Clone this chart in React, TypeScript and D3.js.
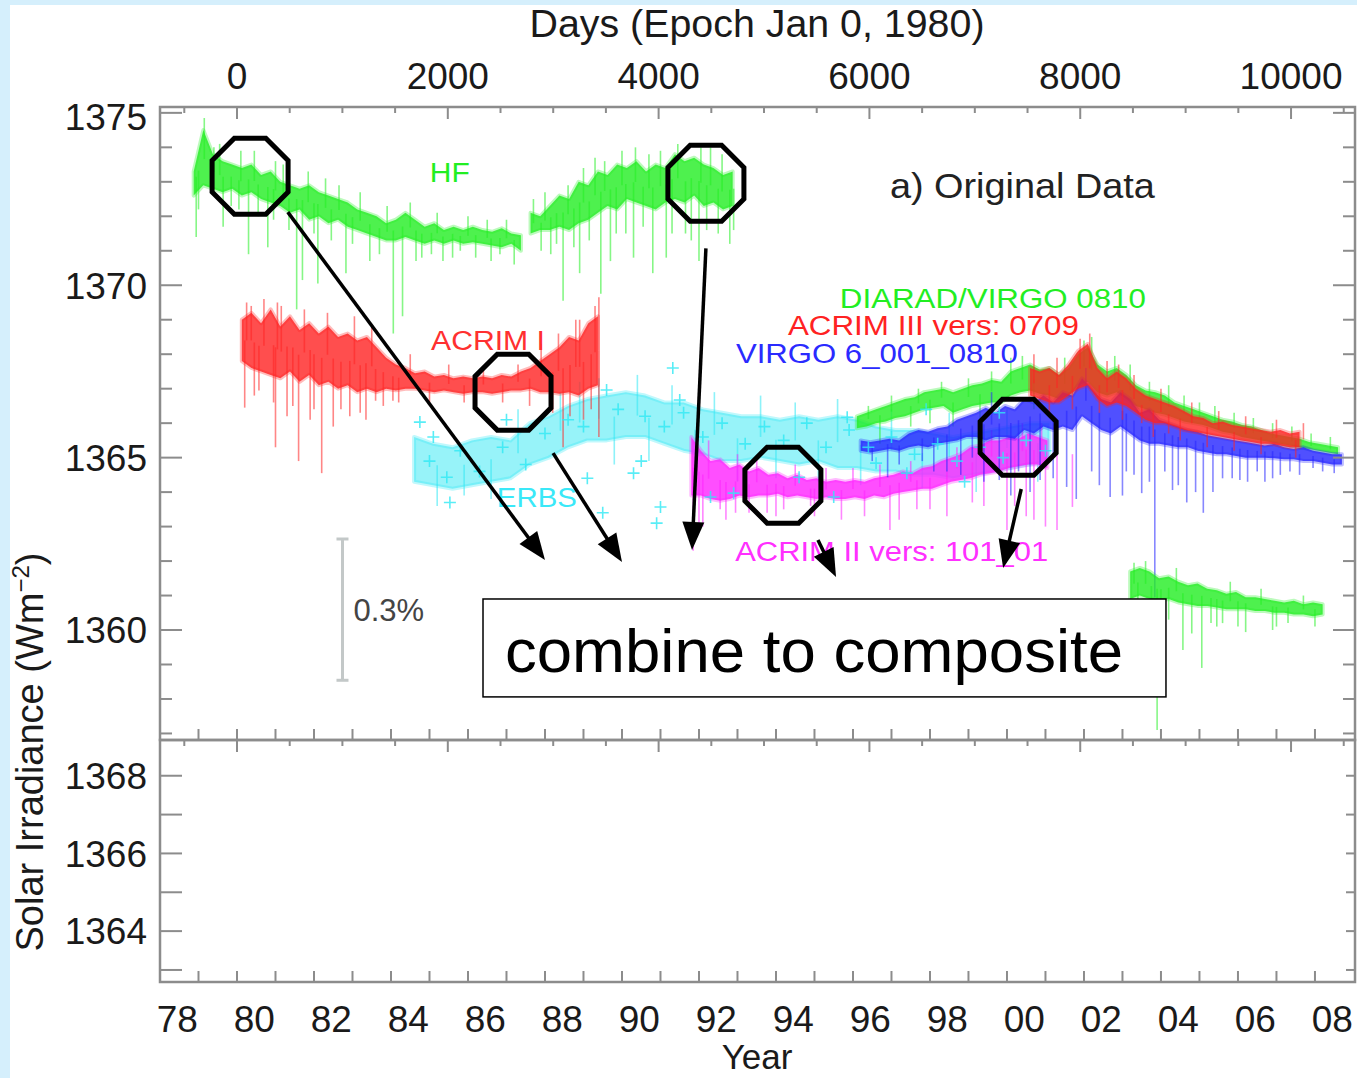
import React from "react";
import * as d3 from "d3";

const WIDTH = 1357;
const HEIGHT = 1078;

// ---------- tick labels ----------
const yearLabels = ["78", "80", "82", "84", "86", "88", "90", "92", "94", "96", "98", "00", "02", "04", "06", "08"];
const yearLabelYears = [1978, 1980, 1982, 1984, 1986, 1988, 1990, 1992, 1994, 1996, 1998, 2000, 2002, 2004, 2006, 2008];
const dayLabels = [0, 2000, 4000, 6000, 8000, 10000];
const upperYLabels = [1375, 1370, 1365, 1360];
const lowerYLabels = [1368, 1366, 1364];

// ---------- series (binned ranges: hi / lo per bin, 0.25 yr bins unless noted) ----------
const hf1Start = 1978.875;
const hf1Hi = [1373.3, 1374.5, 1373.8, 1373.6, 1373.5, 1373.4, 1373.5, 1373.2, 1373.3, 1373.0, 1372.9, 1372.8, 1372.9, 1372.7, 1372.6, 1372.5, 1372.4, 1372.2, 1372.1, 1372.0, 1371.8, 1371.9, 1372.1, 1371.9, 1371.7, 1371.8, 1371.6, 1371.7, 1371.6, 1371.7, 1371.6, 1371.55, 1371.65, 1371.5, 1371.45];
const hf1Lo = [1372.6, 1372.9, 1372.8, 1372.7, 1372.8, 1372.6, 1372.7, 1372.5, 1372.4, 1372.3, 1372.1, 1372.2, 1371.9, 1372.0, 1371.8, 1371.9, 1371.7, 1371.6, 1371.5, 1371.4, 1371.3, 1371.3, 1371.4, 1371.3, 1371.2, 1371.3, 1371.2, 1371.3, 1371.2, 1371.25, 1371.2, 1371.15, 1371.1, 1371.2, 1371.0];
const hf1Spikes = [[1978.94, 1371.4], [1979.15, 1374.85], [1979.64, 1371.7], [1980.3, 1370.9], [1980.8, 1371.1], [1981.55, 1369.3], [1981.7, 1370.15], [1982.1, 1370.05], [1982.83, 1370.35], [1983.45, 1370.7], [1984.06, 1368.6], [1984.3, 1369.1], [1984.8, 1370.8], [1985.35, 1370.7], [1985.8, 1371.0], [1986.83, 1370.9], [1979.4, 1374.0], [1980.1, 1373.9], [1981.0, 1373.6],
  [1979.0, 1372.2], [1979.55, 1374.1], [1979.85, 1372.3], [1980.05, 1372.2], [1980.45, 1373.9], [1980.55, 1372.0], [1980.95, 1371.9], [1981.2, 1373.5], [1981.35, 1371.6], [1981.85, 1373.3], [1982.0, 1371.5], [1982.3, 1373.1], [1982.45, 1371.3], [1982.65, 1372.9], [1983.0, 1371.2], [1983.2, 1372.7], [1983.7, 1370.9], [1983.9, 1372.3], [1984.5, 1372.4], [1984.65, 1370.7], [1985.05, 1370.9], [1985.2, 1372.1], [1985.6, 1370.8], [1986.0, 1372.0], [1986.2, 1370.8], [1986.5, 1371.9], [1986.6, 1370.7], [1987.0, 1371.9], [1987.2, 1370.6]];

const hf2Start = 1987.625;
const hf2Hi = [1372.1, 1372.0, 1372.3, 1372.6, 1372.5, 1373.0, 1372.9, 1373.3, 1373.2, 1373.5, 1373.4, 1373.6, 1373.3, 1373.5, 1373.4, 1373.8, 1373.6, 1373.7, 1373.5, 1373.4, 1373.2, 1373.3];
const hf2Lo = [1371.5, 1371.6, 1371.6, 1371.7, 1371.6, 1371.8, 1371.9, 1372.1, 1372.3, 1372.2, 1372.5, 1372.4, 1372.3, 1372.2, 1372.4, 1372.5, 1372.4, 1372.6, 1372.3, 1372.4, 1372.2, 1372.3];
const hf2Spikes = [[1988.15, 1370.9], [1988.47, 1369.55], [1988.9, 1370.35], [1989.3, 1373.7], [1989.45, 1369.75], [1989.7, 1370.7], [1990.3, 1370.8], [1990.35, 1374.0], [1990.8, 1370.35], [1991.15, 1370.8], [1991.65, 1371.5], [1992.0, 1370.7], [1992.05, 1374.0], [1992.8, 1371.2], [1992.6, 1373.8],
  [1987.7, 1372.5], [1987.9, 1371.0], [1988.0, 1372.7], [1988.3, 1371.2], [1988.6, 1372.9], [1988.75, 1371.1], [1989.0, 1373.4], [1989.15, 1371.3], [1989.55, 1373.6], [1989.85, 1371.5], [1990.0, 1373.9], [1990.1, 1371.5], [1990.55, 1371.7], [1990.7, 1373.8], [1991.0, 1373.9], [1991.3, 1371.5], [1991.45, 1374.1], [1991.8, 1371.3], [1992.2, 1371.6], [1992.3, 1374.0], [1992.5, 1371.5], [1992.9, 1371.6]];

const acrim1Start = 1980.125;
const acrim1Hi = [1369.0, 1369.2, 1368.9, 1369.3, 1368.8, 1369.1, 1368.7, 1368.9, 1368.6, 1368.8, 1368.5, 1368.6, 1368.4, 1368.5, 1368.2, 1367.9, 1367.7, 1367.6, 1367.45, 1367.5, 1367.35, 1367.4, 1367.3, 1367.35, 1367.3, 1367.35, 1367.3, 1367.4, 1367.35, 1367.5, 1367.6, 1367.8, 1368.0, 1368.2, 1368.5, 1368.4, 1368.9, 1369.1];
const acrim1Lo = [1367.8, 1367.6, 1367.5, 1367.4, 1367.3, 1367.5, 1367.2, 1367.4, 1367.1, 1367.2, 1367.0, 1367.1, 1366.9, 1367.0, 1366.9, 1367.0, 1366.95, 1367.0, 1367.0, 1366.95, 1366.9, 1366.95, 1366.9, 1366.85, 1366.9, 1366.9, 1366.85, 1366.9, 1366.95, 1366.95, 1367.0, 1366.9, 1366.9, 1366.85, 1366.9, 1366.8, 1367.0, 1367.1];
const acrim1Spikes = [[1980.2, 1366.45], [1980.57, 1366.95], [1981.0, 1365.3], [1981.3, 1366.2], [1981.6, 1364.9], [1981.9, 1366.1], [1982.2, 1364.55], [1982.5, 1365.9], [1982.93, 1366.2], [1983.35, 1366.1], [1983.6, 1366.65], [1984.05, 1366.65], [1988.47, 1365.3], [1989.0, 1366.1], [1989.4, 1365.6], [1980.37, 1369.4], [1981.05, 1369.5], [1989.4, 1369.65], [1988.9, 1369.0],
  [1980.25, 1369.5], [1980.45, 1366.8], [1980.7, 1369.6], [1980.95, 1366.6], [1981.15, 1369.4], [1981.45, 1366.5], [1981.75, 1369.3], [1982.0, 1366.4], [1982.35, 1369.2], [1982.7, 1366.4], [1983.05, 1369.1], [1983.2, 1366.3], [1983.5, 1368.8], [1983.8, 1366.5], [1984.2, 1366.6], [1984.5, 1368.0], [1985.0, 1366.6], [1985.5, 1367.7], [1985.9, 1366.6], [1986.4, 1367.6], [1986.9, 1366.6], [1987.3, 1367.7], [1987.6, 1366.5], [1987.9, 1368.3], [1988.2, 1366.3], [1988.35, 1368.6], [1988.65, 1366.2], [1988.8, 1369.0], [1989.2, 1366.4], [1989.3, 1369.4]];

// ERBS: 0.5 yr bins
const erbsStart = 1984.6;
const erbsHi = [1365.6, 1365.4, 1365.3, 1365.5, 1365.6, 1365.5, 1366.0, 1366.2, 1366.5, 1366.7, 1366.8, 1366.9, 1366.8, 1366.6, 1366.6, 1366.4, 1366.3, 1366.2, 1366.2, 1366.1, 1366.2, 1366.1, 1366.2, 1366.1, 1365.9, 1365.8, 1365.8, 1365.7, 1365.6, 1365.7, 1365.8, 1365.9, 1366.0, 1366.0];
const erbsLo = [1364.3, 1364.2, 1364.1, 1364.2, 1364.3, 1364.4, 1364.8, 1365.0, 1365.3, 1365.5, 1365.5, 1365.6, 1365.6, 1365.4, 1365.2, 1365.1, 1364.9, 1364.9, 1365.0, 1364.9, 1364.8, 1364.9, 1364.7, 1364.7, 1364.6, 1364.6, 1364.5, 1364.5, 1364.4, 1364.5, 1364.6, 1364.7, 1364.8, 1364.9];
const erbsSpikes = [[1985.2, 1363.6], [1985.9, 1363.9], [1986.6, 1363.8], [1987.3, 1366.4], [1988.4, 1366.9], [1988.9, 1367.2], [1989.4, 1367.3], [1989.8, 1364.8], [1990.4, 1367.4], [1990.7, 1364.9], [1991.3, 1367.1], [1991.9, 1364.5], [1992.4, 1366.9], [1993.0, 1364.3], [1993.6, 1366.8], [1994.0, 1364.4], [1994.5, 1366.6], [1995.1, 1364.3], [1995.6, 1366.7], [1996.2, 1364.2], [1997.0, 1366.4], [1997.8, 1364.1], [1998.5, 1366.3], [1999.2, 1364.0], [2000.0, 1366.4], [2000.8, 1364.3]];
const erbsCrosses = [[1984.75, 1366.03], [1985.1, 1365.6], [1985.53, 1363.7], [1985.45, 1364.43], [1987.0, 1366.1], [1989.1, 1364.4], [1989.5, 1363.4], [1989.6, 1366.96], [1990.3, 1364.55], [1990.5, 1364.9], [1991.0, 1363.57], [1991.32, 1367.6], [1991.5, 1366.67], [1990.9, 1363.1], [1992.3, 1363.86], [1992.9, 1363.97], [1994.6, 1364.43], [1995.5, 1363.86], [1995.85, 1366.17], [1996.6, 1364.84], [1997.9, 1366.4], [1997.4, 1364.55], [1999.8, 1366.3], [1998.9, 1364.3],
  [1985.0, 1364.9], [1985.8, 1365.2], [1986.3, 1364.6], [1986.9, 1365.3], [1987.5, 1364.8], [1988.0, 1365.7], [1988.6, 1366.1], [1989.0, 1365.9], [1989.9, 1366.4], [1990.6, 1366.2], [1991.1, 1365.9], [1991.6, 1366.3], [1992.1, 1365.6], [1992.6, 1366.0], [1993.2, 1365.4], [1993.7, 1365.9], [1994.2, 1365.5], [1994.8, 1366.0], [1995.3, 1365.3], [1995.9, 1365.8], [1996.4, 1365.3], [1997.0, 1365.6], [1997.6, 1365.1], [1998.2, 1365.4], [1998.7, 1364.9], [1999.3, 1365.3], [1999.9, 1365.0], [2000.5, 1365.5], [2001.0, 1365.2]];

const acrim2Start = 1991.8;
const acrim2Hi = [1365.6, 1365.2, 1364.9, 1364.95, 1364.7, 1364.8, 1364.6, 1364.7, 1364.5, 1364.55, 1364.4, 1364.5, 1364.35, 1364.4, 1364.3, 1364.35, 1364.3, 1364.35, 1364.3, 1364.4, 1364.45, 1364.5, 1364.6, 1364.55, 1364.7, 1364.75, 1364.9, 1365.0, 1365.1, 1365.3, 1365.35, 1365.5, 1365.5, 1365.6, 1365.55, 1365.7, 1365.6, 1365.5];
const acrim2Lo = [1363.9, 1363.9, 1363.8, 1363.75, 1363.8, 1363.9, 1363.85, 1363.9, 1363.9, 1363.95, 1363.85, 1363.9, 1363.85, 1363.8, 1363.85, 1363.8, 1363.8, 1363.85, 1363.8, 1363.9, 1363.85, 1363.95, 1364.0, 1364.05, 1364.1, 1364.1, 1364.2, 1364.3, 1364.35, 1364.4, 1364.5, 1364.55, 1364.6, 1364.7, 1364.75, 1364.8, 1364.8, 1364.7];
const acrim2Spikes = [[1991.85, 1362.3], [1991.95, 1366.0], [1992.1, 1363.0], [1992.55, 1363.5], [1992.95, 1363.4], [1993.77, 1363.4], [1994.2, 1363.5], [1994.9, 1363.6], [1996.96, 1362.9], [1997.66, 1363.5], [1998.44, 1363.3], [1999.1, 1363.7], [2000.0, 1362.9], [2000.5, 1363.3], [2001.0, 1363.0], [2001.3, 1362.9], [2001.7, 1363.57],
  [1992.0, 1362.9], [1992.25, 1365.5], [1992.7, 1363.2], [1993.0, 1365.1], [1993.3, 1363.4], [1993.5, 1364.95], [1994.0, 1363.3], [1994.5, 1364.8], [1995.0, 1363.3], [1995.3, 1364.7], [1995.7, 1363.2], [1996.0, 1364.7], [1996.3, 1363.3], [1996.7, 1364.8], [1997.2, 1363.2], [1997.5, 1364.9], [1998.0, 1363.5], [1998.7, 1365.3], [1999.4, 1363.6], [1999.6, 1365.8], [2000.2, 1363.6], [2000.4, 1366.0], [2000.7, 1363.2], [2000.9, 1366.0]];

const virgoStart = 1996.2;
const virgoHi = [1365.5, 1365.45, 1365.5, 1365.55, 1365.5, 1365.7, 1365.8, 1365.75, 1365.85, 1365.9, 1366.1, 1366.2, 1366.3, 1366.45, 1366.3, 1366.5, 1366.4, 1366.7, 1366.6, 1366.8, 1366.6, 1366.9, 1366.8, 1367.3, 1367.0, 1366.7, 1366.6, 1366.9, 1366.7, 1366.3, 1366.4, 1366.1, 1366.0, 1365.9, 1365.8, 1365.75, 1365.65, 1365.6, 1365.55, 1365.5, 1365.45, 1365.4, 1365.35, 1365.4, 1365.3, 1365.25, 1365.3, 1365.2, 1365.15, 1365.1, 1365.1];
const virgoLo = [1365.2, 1365.15, 1365.2, 1365.25, 1365.2, 1365.3, 1365.35, 1365.3, 1365.4, 1365.45, 1365.5, 1365.6, 1365.6, 1365.5, 1365.6, 1365.6, 1365.55, 1365.8, 1365.7, 1365.9, 1365.8, 1365.9, 1365.8, 1366.2, 1366.0, 1365.8, 1365.7, 1365.9, 1365.7, 1365.5, 1365.4, 1365.4, 1365.35, 1365.3, 1365.3, 1365.2, 1365.15, 1365.1, 1365.1, 1365.05, 1365.0, 1365.0, 1365.0, 1364.98, 1364.95, 1364.95, 1364.9, 1364.9, 1364.85, 1364.8, 1364.8];
const virgoSpikes = [[1996.9, 1364.43], [1998.44, 1364.6], [1999.1, 1365.0], [1999.8, 1364.35], [2000.3, 1364.6], [2000.86, 1364.35], [2001.55, 1364.15], [2002.2, 1364.6], [2002.68, 1363.86], [2003.1, 1364.6], [2003.5, 1363.97], [2003.84, 1360.95], [2004.3, 1364.06], [2004.67, 1363.7], [2005.1, 1363.4], [2005.6, 1364.4], [2006.05, 1364.35], [2006.5, 1364.6], [2006.9, 1364.4], [2007.35, 1364.6], [2007.95, 1364.7],
  [1996.5, 1364.9], [1997.2, 1364.8], [1997.8, 1364.9], [1998.1, 1364.6], [1998.8, 1364.5], [1999.4, 1364.3], [1999.6, 1366.9], [2000.1, 1363.9], [2000.6, 1364.0], [2001.2, 1364.4], [2001.8, 1363.8], [2002.05, 1367.6], [2002.4, 1364.2], [2003.0, 1363.9], [2003.3, 1364.5], [2003.7, 1364.3], [2004.1, 1364.6], [2004.45, 1364.2], [2004.9, 1364.0], [2005.35, 1364.0], [2005.85, 1364.4], [2006.25, 1364.3], [2006.7, 1364.3], [2007.1, 1364.5], [2007.6, 1364.5], [2008.2, 1364.6], [2008.5, 1364.55]];

const diaradStart = 1996.1;
const diaradHi = [1366.2, 1366.3, 1366.4, 1366.5, 1366.6, 1366.7, 1366.75, 1366.9, 1366.95, 1367.0, 1366.9, 1367.0, 1367.1, 1367.15, 1367.25, 1367.2, 1367.5, 1367.6, 1367.7, 1367.55, 1367.6, 1367.4, 1367.6, 1368.0, 1368.2, 1367.7, 1367.5, 1367.6, 1367.4, 1367.1, 1366.95, 1366.9, 1366.8, 1366.6, 1366.5, 1366.4, 1366.3, 1366.2, 1366.1, 1366.05, 1365.95, 1365.9, 1365.8, 1365.7, 1365.65, 1365.6, 1365.55, 1365.45, 1365.4, 1365.35, 1365.3];
const diaradLo = [1365.85, 1365.9, 1366.0, 1366.05, 1366.15, 1366.2, 1366.3, 1366.4, 1366.45, 1366.5, 1366.3, 1366.4, 1366.5, 1366.55, 1366.6, 1366.6, 1366.8, 1366.9, 1366.95, 1366.85, 1366.8, 1366.7, 1366.8, 1367.1, 1367.2, 1366.9, 1366.8, 1366.9, 1366.7, 1366.5, 1366.4, 1366.3, 1366.25, 1366.15, 1366.05, 1366.0, 1365.95, 1365.85, 1365.75, 1365.7, 1365.6, 1365.55, 1365.5, 1365.45, 1365.4, 1365.35, 1365.3, 1365.25, 1365.2, 1365.15, 1365.1];
const diaradSpikes = [[1996.7, 1365.4], [1998.0, 1366.0], [2000.1, 1367.9], [2002.0, 1368.4],
  [1996.4, 1366.5], [1997.0, 1366.8], [1997.5, 1365.9], [1997.7, 1367.0], [1998.3, 1367.2], [1998.6, 1365.9], [1999.0, 1367.3], [1999.3, 1366.1], [1999.6, 1367.5], [2000.4, 1367.95], [2000.7, 1366.4], [2001.5, 1367.9], [2002.2, 1368.5], [2002.8, 1367.95], [2003.2, 1367.7], [2003.7, 1367.2], [2004.2, 1367.1], [2004.6, 1366.8], [2005.0, 1366.6], [2005.4, 1366.5], [2005.9, 1366.3], [2006.4, 1366.15], [2006.9, 1366.0], [2007.4, 1365.9], [2007.9, 1365.7], [2008.4, 1365.6]];

const acrim3Start = 2000.6;
const acrim3Hi = [1367.6, 1367.5, 1367.6, 1367.4, 1367.7, 1368.1, 1368.3, 1367.6, 1367.3, 1367.5, 1367.3, 1367.0, 1366.8, 1366.7, 1366.6, 1366.5, 1366.35, 1366.2, 1366.15, 1366.0, 1366.05, 1365.95, 1365.9, 1365.85, 1365.8, 1365.75, 1365.8, 1365.7, 1365.75];
const acrim3Lo = [1366.8, 1366.7, 1366.6, 1366.6, 1366.8, 1367.0, 1367.1, 1366.7, 1366.5, 1366.6, 1366.5, 1366.3, 1366.1, 1366.0, 1366.0, 1365.9, 1365.8, 1365.75, 1365.7, 1365.65, 1365.6, 1365.55, 1365.5, 1365.45, 1365.4, 1365.4, 1365.35, 1365.3, 1365.3];
const acrim3Spikes = [[2001.9, 1368.45], [2002.9, 1367.7], [2003.5, 1366.0], [2004.2, 1365.7],
  [2000.7, 1368.0], [2001.1, 1366.2], [2001.3, 1367.9], [2001.7, 1366.4], [2002.15, 1368.6], [2002.4, 1366.3], [2002.6, 1367.8], [2003.0, 1366.1], [2003.3, 1367.4], [2003.8, 1365.6], [2004.0, 1367.0], [2004.5, 1365.5], [2004.8, 1366.6], [2005.2, 1365.3], [2005.5, 1366.35], [2005.9, 1365.2], [2006.2, 1366.2], [2006.6, 1365.1], [2007.0, 1366.1], [2007.5, 1365.0], [2007.7, 1366.0]];

const lowStart = 2003.2;
const lowHi = [1361.7, 1361.8, 1361.7, 1361.5, 1361.55, 1361.4, 1361.3, 1361.35, 1361.2, 1361.15, 1361.05, 1361.1, 1360.95, 1360.95, 1360.9, 1360.85, 1360.8, 1360.85, 1360.75, 1360.8, 1360.75];
const lowLo = [1360.9, 1361.0, 1360.9, 1360.85, 1360.9, 1360.8, 1360.75, 1360.7, 1360.7, 1360.65, 1360.6, 1360.6, 1360.6, 1360.55, 1360.55, 1360.5, 1360.5, 1360.45, 1360.45, 1360.4, 1360.45];
const lowSpikes = [[2003.9, 1357.1], [2003.3, 1361.95], [2004.57, 1359.42], [2005.06, 1358.9], [2004.8, 1359.9], [2005.45, 1360.1], [2005.6, 1360.2], [2006.2, 1359.94], [2006.9, 1360.0], [2007.3, 1360.2], [2004.0, 1360.3],
  [2003.4, 1360.5], [2003.6, 1362.0], [2003.75, 1360.4], [2004.2, 1360.3], [2004.4, 1361.8], [2005.3, 1360.2], [2005.8, 1361.4], [2006.0, 1360.1], [2006.6, 1361.2], [2007.0, 1360.1], [2007.7, 1361.0], [2008.0, 1360.1]];

// ---------- annotations (data coordinates) ----------
const octagonCenters = [[1980.34, 1373.16], [1992.18, 1372.96], [1987.17, 1366.9], [1994.18, 1364.2], [2000.29, 1365.59]];
const arrowStarts = [[1981.32, 1372.12], [1988.21, 1365.13], [1992.18, 1371.07], [1995.09, 1362.61], [2000.37, 1364.09]];
const arrowEnds = [[1988.0, 1362.03], [1990.0, 1361.97], [1991.82, 1362.32], [1995.56, 1361.54], [1999.9, 1361.8]];
const boxCorners = [[1986.39, 1360.9], [2004.13, 1358.06]];
const scaleBarTop = [1982.74, 1362.64];
const scaleBarPct = 0.3;

const GREEN = "#22ee22";
const RED = "#ff2222";
const BLUE = "#2424ff";
const MAGENTA = "#ff22ff";
const CYAN = "#30e8f4";
const AX = "#8c8c8c";
const FONT = "Liberation Sans, Arial, Helvetica, sans-serif";

export default function App() {
  const x = d3.scaleLinear().domain([1978, 2009.04]).range([160, 1355]);
  const yU = d3.scaleLinear().domain([1356.81, 1375.17]).range([740, 107]);
  const yL = d3.scaleLinear().domain([1362.69, 1368.92]).range([982, 740]);
  const dayX = (d: number) => x(1980 + d / 365.25);

  const series = [
    { key: "erbs", start: erbsStart, step: 0.5, hi: erbsHi, lo: erbsLo, color: CYAN, spikes: erbsSpikes, op: 0.5 },
    { key: "hf1", start: hf1Start, step: 0.25, hi: hf1Hi, lo: hf1Lo, color: GREEN, spikes: hf1Spikes, op: 0.8 },
    { key: "hf2", start: hf2Start, step: 0.25, hi: hf2Hi, lo: hf2Lo, color: GREEN, spikes: hf2Spikes, op: 0.8 },
    { key: "acrim1", start: acrim1Start, step: 0.25, hi: acrim1Hi, lo: acrim1Lo, color: RED, spikes: acrim1Spikes, op: 0.8 },
    { key: "acrim2", start: acrim2Start, step: 0.25, hi: acrim2Hi, lo: acrim2Lo, color: MAGENTA, spikes: acrim2Spikes, op: 0.8 },
    { key: "diarad", start: diaradStart, step: 0.25, hi: diaradHi, lo: diaradLo, color: GREEN, spikes: diaradSpikes, op: 0.8 },
    { key: "virgo", start: virgoStart, step: 0.25, hi: virgoHi, lo: virgoLo, color: BLUE, spikes: virgoSpikes, op: 0.8 },
    { key: "acrim3", start: acrim3Start, step: 0.25, hi: acrim3Hi, lo: acrim3Lo, color: RED, spikes: acrim3Spikes, op: 0.8 },
    { key: "low", start: lowStart, step: 0.25, hi: lowHi, lo: lowLo, color: GREEN, spikes: lowSpikes, op: 0.8 },
  ];

  const bandMid = (s: any, yr: number) => {
    const n = s.hi.length;
    const f = (yr - s.start) / s.step;
    const i0 = Math.max(0, Math.min(n - 1, Math.floor(f)));
    const i1 = Math.min(n - 1, i0 + 1);
    const t = Math.max(0, Math.min(1, f - i0));
    const h = s.hi[i0] + (s.hi[i1] - s.hi[i0]) * t;
    const l = s.lo[i0] + (s.lo[i1] - s.lo[i0]) * t;
    return (h + l) / 2;
  };

  const octPoints = (cx: number, cy: number, a: number) => {
    const R = a / Math.cos(Math.PI / 8);
    return d3.range(8).map((k) => {
      const ang = Math.PI / 8 + (k * Math.PI) / 4;
      return `${cx + R * Math.cos(ang)},${cy + R * Math.sin(ang)}`;
    }).join(" ");
  };

  const arrows = arrowStarts.map((s, i) => {
    const x1 = x(s[0]), y1 = yU(s[1]);
    const x2 = x(arrowEnds[i][0]), y2 = yU(arrowEnds[i][1]);
    const dx = x2 - x1, dy = y2 - y1;
    const len = Math.hypot(dx, dy);
    const ux = dx / len, uy = dy / len;
    const hl = 28, hw = 11;
    const bx = x2 - ux * hl, by = y2 - uy * hl;
    const head = `${x2},${y2} ${bx - uy * hw},${by + ux * hw} ${bx + uy * hw},${by - ux * hw}`;
    return { x1, y1, lx: x2 - ux * 20, ly: y2 - uy * 20, head };
  });

  const yearTicks = d3.range(1979, 2009);
  const dayTicks = d3.range(-500, 10501, 500);
  const upperMinor = d3.range(1357, 1376);
  const lowerMinor = d3.range(1363, 1369);

  const sbTopY = yU(scaleBarTop[1]);
  const sbBotY = yU(scaleBarTop[1] - (scaleBarPct / 100) * 1366);
  const sbX = x(scaleBarTop[0]);

  const bx0 = x(boxCorners[0][0]), by0 = yU(boxCorners[0][1]);
  const bx1 = x(boxCorners[1][0]), by1 = yU(boxCorners[1][1]);

  const seriesLabels = [
    { text: "HF", yr: 1985.01, v: 1372.99, color: GREEN, w: 40 },
    { text: "ACRIM I", yr: 1985.04, v: 1368.12, color: "#ff3030", w: 114 },
    { text: "DIARAD/VIRGO 0810", yr: 1995.66, v: 1369.33, color: GREEN, w: 306 },
    { text: "ACRIM III vers: 0709", yr: 1994.31, v: 1368.55, color: RED, w: 291 },
    { text: "VIRGO 6_001_0810", yr: 1992.96, v: 1367.74, color: "#2a2aff", w: 282 },
    { text: "ERBS", yr: 1986.75, v: 1363.57, color: "#3ae8f8", w: 80 },
    { text: "ACRIM II vers: 101_01", yr: 1992.94, v: 1362.0, color: "#ff30ff", w: 313 },
  ];

  return (
    <svg width={WIDTH} height={HEIGHT} style={{ position: "absolute", left: 0, top: 0 }} fontFamily={FONT}>
      <defs>
        <clipPath id="upperClip">
          <rect x={160} y={107} width={1195} height={633} />
        </clipPath>
      </defs>
      <rect x={0} y={0} width={WIDTH} height={HEIGHT} fill="#d5effc" />
      <rect x={10} y={5} width={WIDTH - 10} height={HEIGHT - 5} fill="#ffffff" />

      {/* data */}
      <g clipPath="url(#upperClip)">
        {series.map((s) => {
          const idx = d3.range(s.hi.length);
          const area = d3.area<number>()
            .x((i) => x(s.start + i * s.step))
            .y0((i) => yU(s.lo[i]))
            .y1((i) => yU(s.hi[i]))(idx) as string;
          return (
            <g key={s.key}>
              <path d={area} fill={s.color} fillOpacity={s.op} stroke={s.color} strokeOpacity={0.3} strokeWidth={4} strokeLinejoin="round" />
              {s.spikes.map((p, j) => (
                <line key={j} x1={x(p[0])} x2={x(p[0])} y1={yU(bandMid(s, p[0]))} y2={yU(p[1])}
                  stroke={s.color} strokeWidth={1.6} strokeOpacity={0.55} />
              ))}
            </g>
          );
        })}
        {erbsCrosses.map((p, j) => {
          const cx = x(p[0]), cy = yU(p[1]);
          return (
            <path key={j} d={`M${cx - 6},${cy}H${cx + 6}M${cx},${cy - 6}V${cy + 6}`} stroke={CYAN} strokeWidth={1.6} strokeOpacity={0.8} />
          );
        })}
      </g>

      {/* axes frames */}
      <rect x={160} y={107} width={1195} height={633} fill="none" stroke={AX} strokeWidth={2.5} />
      <rect x={160} y={740} width={1195} height={242} fill="none" stroke={AX} strokeWidth={2.5} />

      <g stroke={AX} strokeWidth={2}>
        {upperMinor.map((v) => {
          const len = v % 5 === 0 ? 22 : 12;
          return (
            <g key={v}>
              <line x1={160} x2={160 + len} y1={yU(v)} y2={yU(v)} />
              <line x1={1355} x2={1355 - len} y1={yU(v)} y2={yU(v)} />
            </g>
          );
        })}
        {lowerMinor.map((v) => (
          <g key={v}>
            <line x1={160} x2={182} y1={yL(v)} y2={yL(v)} />
            <line x1={1355} x2={1346} y1={yL(v)} y2={yL(v)} />
          </g>
        ))}
        {dayTicks.map((d) => {
          const len = d % 2000 === 0 ? 12 : 6;
          return (
            <g key={d}>
              <line x1={dayX(d)} x2={dayX(d)} y1={107} y2={107 + len} />
              <line x1={dayX(d)} x2={dayX(d)} y1={740} y2={740 + len} />
            </g>
          );
        })}
        {yearTicks.map((yr) => (
          <g key={yr}>
            <line x1={x(yr)} x2={x(yr)} y1={740} y2={729} />
            <line x1={x(yr)} x2={x(yr)} y1={982} y2={971} />
          </g>
        ))}
      </g>

      {/* tick labels */}
      <g fontSize={37} fill="#1a1a1a">
        {dayLabels.map((d) => (
          <text key={d} x={dayX(d)} y={89} textAnchor="middle">{d}</text>
        ))}
        {yearLabels.map((lab, i) => (
          <text key={lab} x={x(yearLabelYears[i] + 0.45)} y={1032} textAnchor="middle">{lab}</text>
        ))}
        {upperYLabels.map((v) => (
          <text key={v} x={147} y={yU(v) + (v === 1375 ? 4 : 0)} dy="0.36em" textAnchor="end">{v}</text>
        ))}
        {lowerYLabels.map((v) => (
          <text key={v} x={147} y={yL(v)} dy="0.36em" textAnchor="end">{v}</text>
        ))}
      </g>

      {/* titles */}
      <text x={757} y={37} fontSize={38} textAnchor="middle" fill="#1a1a1a" textLength={455} lengthAdjust="spacingAndGlyphs">Days (Epoch Jan 0, 1980)</text>
      <text x={757} y={1069} fontSize={35} textAnchor="middle" fill="#1a1a1a">Year</text>
      <text transform="translate(43,752) rotate(-90)" fontSize={38} textAnchor="middle" fill="#1a1a1a">
        Solar Irradiance (Wm<tspan fontSize={24} dy={-14}>−2</tspan><tspan dy={14}>)</tspan>
      </text>

      {/* series labels */}
      {seriesLabels.map((l) => (
        <text key={l.text} x={x(l.yr)} y={yU(l.v)} fontSize={27} fill={l.color} textLength={l.w} lengthAdjust="spacingAndGlyphs">{l.text}</text>
      ))}
      <text x={x(1996.96)} y={yU(1372.52)} fontSize={35} fill="#222" textLength={265} lengthAdjust="spacingAndGlyphs">a) Original Data</text>

      {/* 0.3% scale bar */}
      <g stroke="#c3c8c8" strokeWidth={3}>
        <line x1={sbX} x2={sbX} y1={sbTopY} y2={sbBotY} />
        <line x1={sbX - 6} x2={sbX + 6} y1={sbTopY} y2={sbTopY} />
        <line x1={sbX - 6} x2={sbX + 6} y1={sbBotY} y2={sbBotY} />
      </g>
      <text x={sbX + 11} y={(sbTopY + sbBotY) / 2} dy="0.36em" fontSize={31} fill="#444">0.3%</text>

      {/* annotations */}
      {octagonCenters.map((c, i) => (
        <polygon key={i} points={octPoints(x(c[0]), yU(c[1]), 38)} fill="none" stroke="#000" strokeWidth={5} strokeLinejoin="miter" />
      ))}
      {arrows.map((a, i) => (
        <g key={i}>
          <line x1={a.x1} y1={a.y1} x2={a.lx} y2={a.ly} stroke="#000" strokeWidth={3.5} />
          <polygon points={a.head} fill="#000" />
        </g>
      ))}
      <rect x={bx0} y={by0} width={bx1 - bx0} height={by1 - by0} fill="#fff" stroke="#000" strokeWidth={1.5} />
      <text x={bx0 + 22} y={by0 + 73} fontSize={62} fill="#000" textLength={618} lengthAdjust="spacingAndGlyphs">combine to composite</text>
    </svg>
  );
}
